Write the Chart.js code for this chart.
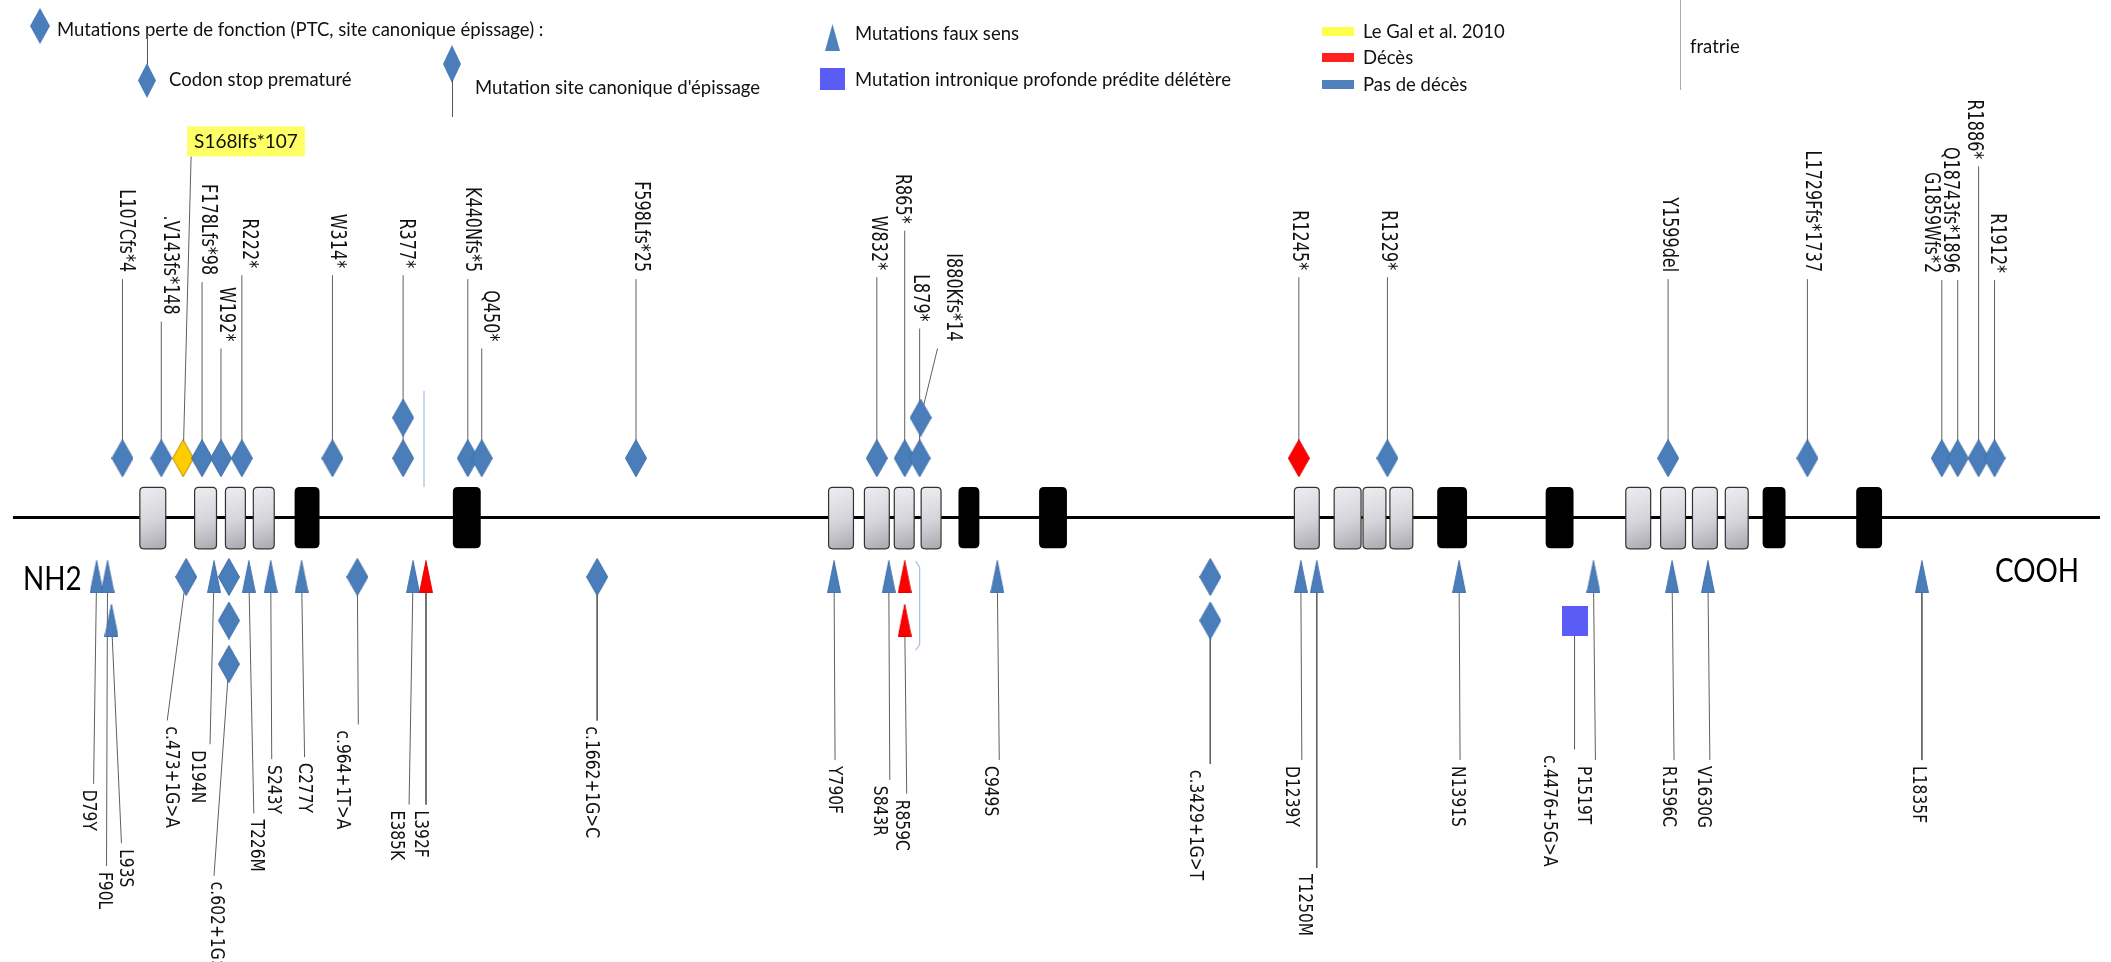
<!DOCTYPE html>
<html lang="fr">
<head>
<meta charset="utf-8">
<title>Mutations – schéma protéique</title>
<script src="https://cdn.jsdelivr.net/npm/chart.js@4.4.1/dist/chart.umd.min.js"></script>
<style>
  html, body { margin: 0; padding: 0; background: #fff; }
  #wrap { position: relative; width: 2111px; height: 962px; overflow: hidden; }
  #chart { position: absolute; left: 0; top: 0; }
  .lg { position: absolute; font-family: Lato, "Open Sans", sans-serif; font-size: 18.5px; color: #111;
        white-space: nowrap; line-height: 1; transform: translateY(-50%); }
  .shape { position: absolute; }
  .dia { clip-path: polygon(50% 0, 100% 50%, 50% 100%, 0 50%); background: #4a7ebb; }
  .tri { clip-path: polygon(50% 0, 100% 100%, 0 100%); background: #4f81bd; }
  .vl { position: absolute; width: 1px; background: #555; }
  .end { position: absolute; font-family: Lato, "Open Sans", sans-serif; font-size: 32px; color: #000;
         line-height: 1; transform-origin: 0 50%; transform: translateY(-50%) scaleX(0.87); }
</style>
</head>
<body>
<div id="wrap">
  <canvas id="chart" width="2111" height="962"></canvas>

  <!-- legend -->
  <div class="shape dia" style="left:30px;top:8px;width:20px;height:36px"></div>
  <div class="lg" style="left:57px;top:29px">Mutations perte de fonction (PTC, site canonique épissage) :</div>
  <div class="vl" style="left:147px;top:33px;height:32px"></div>
  <div class="shape dia" style="left:138px;top:63px;width:18px;height:35px"></div>
  <div class="lg" style="left:169px;top:79px">Codon stop prematuré</div>
  <div class="shape dia" style="left:443px;top:45px;width:18px;height:38px"></div>
  <div class="vl" style="left:452px;top:80px;height:37px"></div>
  <div class="lg" style="left:475px;top:87px">Mutation site canonique d'épissage</div>
  <div class="shape tri" style="left:825px;top:24px;width:15px;height:27px"></div>
  <div class="lg" style="left:855px;top:33px">Mutations faux sens</div>
  <div class="shape" style="left:820px;top:68px;width:25px;height:22px;background:#5b5bf5"></div>
  <div class="lg" style="left:855px;top:79px">Mutation intronique profonde prédite délétère</div>
  <div class="shape" style="left:1322px;top:27px;width:32px;height:9px;background:#ffff4d"></div>
  <div class="lg" style="left:1363px;top:31px">Le Gal et al. 2010</div>
  <div class="shape" style="left:1322px;top:53px;width:32px;height:9px;background:#ff2020"></div>
  <div class="lg" style="left:1363px;top:57px">Décès</div>
  <div class="shape" style="left:1322px;top:80px;width:32px;height:9px;background:#4f81bd"></div>
  <div class="lg" style="left:1363px;top:84px">Pas de décès</div>
  <div class="vl" style="left:1680px;top:0px;height:90px;background:#aaa"></div>
  <div class="lg" style="left:1690px;top:46px">fratrie</div>

  <div class="end" style="left:23px;top:578px">NH2</div>
  <div class="end" style="left:1995px;top:570px">COOH</div>
</div>

<script>
// ---- protein chain (schematic positions along the chain) ----
const chainStart = 8;
const chainEnd = 2105;
const greyDomains = [[135,161],[190,212],[221,241],[249,270],[827,852],[863,888],[893,913],[920,940],
                     [1295,1320],[1335,1362],[1364,1387],[1391,1414],[1628,1653],[1663,1688],[1695,1720],[1728,1751]];
const blackDomains = [[291,316],[450,478],[958,979],[1039,1067],[1439,1469],[1548,1576],[1766,1789],[1860,1886]];

// ---- loss-of-function mutations drawn above the chain ----
const upNames  = ['L107Cfs*4','.V143fs*148','S168lfs*107','F178Lfs*98','W192*','R222*','W314*','R377*',
                  'K440Nfs*5','Q450*','F598Lfs*25','W832*','R865*','L879*','I880Kfs*14','R1245*','R1329*',
                  'Y1599del','L1729Ffs*1737','G1859Wfs*2','Q18743fs*1896','R1886*','R1912*'];
const upPos    = [118,157,179,198,217,238,329,400,465,479,634,876,904,919,920,1300,1389,1671,1811,1946,1962,1983,1999];
const upLevel  = [1,1,1,1,1,1,1,1,1,1,1,1,1,1,2,1,1,1,1,1,1,1,1];
const upCount  = [1,1,1,1,1,1,1,2,1,1,1,1,1,1,1,1,1,1,1,1,1,1,1];
const upStatus = ['alive','alive','legal','alive','alive','alive','alive','alive','alive','alive','alive','alive',
                  'alive','alive','alive','death','alive','alive','alive','alive','alive','alive','alive'];
const upStemX  = [118,157,187,198,217,238,329,400,465,479,634,876,904,919,937,1300,1389,1671,1811,1946,1962,1983,1999];
const upStemY  = [241,198,365,238,171,245,245,245,241,171,241,243,290,191,171,243,243,241,241,240,240,355,240];
const upLabelX = [121,165,187,203,221,245,333,402,469,487,638,877,901,919,952,1300,1389,1671,1815,1935,1954,1978,2001];
const boxedNames = ['S168lfs*107'];

// ---- mutations drawn below the chain ----
const downNames  = ['D79Y','F90L','L93S','c.473+1G>A','D194N','c.602+1G>A','T226M','S243Y','C277Y','c.964+1T>A',
                    'E385K','L392F','c.1662+1G>C','Y790F','S843R','R859C','C949S','c.3429+1G>T','D1239Y','T1250M',
                    'N1391S','c.4476+5G>A','P1519T','R1596C','V1630G','L1835F'];
const downShape  = ['tri','tri','tri','dia','tri','dia','tri','tri','tri','dia','tri','tri','dia','tri','tri','tri',
                    'tri','dia','tri','tri','tri','sq','tri','tri','tri','tri'];
const downPos    = [92,103,107,182,210,225,245,267,298,354,410,423,595,833,888,904,997,1211,1302,1318,1461,1577,1596,1675,1711,1926];
const downLevel  = [1,1,2,1,1,1,1,1,1,1,1,1,1,1,1,1,1,1,1,1,1,2,1,1,1,1];
const downCount  = [1,1,1,1,1,3,1,1,1,1,1,1,1,1,1,2,1,2,1,1,1,1,1,1,1,1];
const downStatus = ['alive','alive','alive','alive','alive','alive','alive','alive','alive','alive','alive','death',
                    'alive','alive','alive','death','alive','alive','alive','alive','alive','alive','alive','alive','alive','alive'];
const downStemX  = [89,102,117,163,206,210,250,268,301,355,406,423,595,834,889,906,999,1211,1303,1318,1462,1577,1598,1677,1713,1926];
const downStemY  = [-269,-352,-329,-205,-229,-362,-299,-244,-242,-209,-290,-290,-205,-245,-265,-279,-245,-249,-245,-354,
                    -245,-234,-245,-245,-245,-245];
const downLabelX = [84,100,121,167,193,212,252,270,301,339,393,417,589,833,878,901,990,1196,1292,1305,1459,1552,1586,1671,1706,1922];

// ---- sibling (fratrie) brackets ----
const fratrieLines = [
  [[421,128],[421,31]],
  [[915,-44],[919,-50],[919,-128],[915,-134]]
];

// ---- styling ----
const statusColor = { alive: '#4a7ebb', death: '#ff0000', legal: '#ffcc00' };
const statusEdge  = { alive: '#3f6fa8', death: '#e00000', legal: '#b08a00' };
const intronicColor = '#5b5bf5';
const labelStretch = 1.3;   // names are drawn with slightly tall glyphs
const upLevelY   = l => 60 + (l - 1) * 41;
const downLevelY = l => -(60 + (l - 1) * 44);

function shapeCanvas(kind, fill, edge) {
  const size = { dia: [22, 38], tri: [14, 33], sq: [26, 30] }[kind];
  const [w, h] = size;
  const c = document.createElement('canvas');
  c.width = w; c.height = h;
  const g = c.getContext('2d');
  g.beginPath();
  if (kind === 'dia') {
    g.moveTo(w / 2, 0.5); g.lineTo(w - 0.5, h / 2); g.lineTo(w / 2, h - 0.5); g.lineTo(0.5, h / 2);
  } else if (kind === 'tri') {
    g.moveTo(w / 2, 0.5); g.lineTo(w - 0.5, h - 0.5); g.lineTo(0.5, h - 0.5);
  } else {
    g.rect(0, 0, w, h);
  }
  g.closePath();
  g.fillStyle = fill;
  g.fill();
  if (edge) { g.strokeStyle = edge; g.lineWidth = 1; g.stroke(); }
  return c;
}
const imgCache = {};
function markerImage(kind, status) {
  const key = kind + status;
  if (!imgCache[key]) {
    imgCache[key] = kind === 'sq'
      ? shapeCanvas('sq', intronicColor, null)
      : shapeCanvas(kind, statusColor[status], statusEdge[status]);
  }
  return imgCache[key];
}

// ---- build point and stem data ----
const markerPoints = [];
const stemPoints = [];
upNames.forEach((n, i) => {
  for (let k = 0; k < upCount[i]; k++) {
    markerPoints.push({ x: upPos[i], y: upLevelY(upLevel[i] + k), img: markerImage('dia', upStatus[i]) });
  }
  stemPoints.push({ x: upPos[i], y: upLevelY(upLevel[i]) }, { x: upStemX[i], y: upStemY[i] }, { x: upStemX[i], y: null });
});
downNames.forEach((n, i) => {
  for (let k = 0; k < downCount[i]; k++) {
    markerPoints.push({ x: downPos[i], y: downLevelY(downLevel[i] + k), img: markerImage(downShape[i], downStatus[i]) });
  }
  stemPoints.push({ x: downPos[i], y: downLevelY(downLevel[i] + downCount[i] - 1) },
                  { x: downStemX[i], y: downStemY[i] }, { x: downStemX[i], y: null });
});
const fratriePoints = [];
fratrieLines.forEach(seg => {
  seg.forEach(([x, y]) => fratriePoints.push({ x, y }));
  fratriePoints.push({ x: seg[seg.length - 1][0], y: null });
});

function roundRectPath(ctx, x, y, w, h, r) {
  ctx.beginPath();
  ctx.moveTo(x + r, y);
  ctx.lineTo(x + w - r, y); ctx.quadraticCurveTo(x + w, y, x + w, y + r);
  ctx.lineTo(x + w, y + h - r); ctx.quadraticCurveTo(x + w, y + h, x + w - r, y + h);
  ctx.lineTo(x + r, y + h); ctx.quadraticCurveTo(x, y + h, x, y + h - r);
  ctx.lineTo(x, y + r); ctx.quadraticCurveTo(x, y, x + r, y);
  ctx.closePath();
}

function drawVertical(ctx, text, px, py, align) {
  ctx.save();
  ctx.translate(px, py);
  ctx.rotate(Math.PI / 2);
  ctx.scale(1, labelStretch);
  ctx.textAlign = align;
  ctx.fillText(text, 0, 0);
  ctx.restore();
}

// Domains are painted right after the backbone so they sit on top of it;
// mutation names are written once every dataset is drawn.
const schematicPlugin = {
  id: 'schematic',
  afterDatasetDraw(chart, args) {
    if (args.index !== 0) return;
    const { ctx, scales: { x, y } } = chart;
    const top = y.getPixelForValue(31), bot = y.getPixelForValue(-31);
    ctx.save();
    greyDomains.forEach(([a, b]) => {
      const x0 = x.getPixelForValue(a), x1 = x.getPixelForValue(b);
      const g = ctx.createLinearGradient(x0, top, x1, bot);
      g.addColorStop(0, '#eeeef2');
      g.addColorStop(0.55, '#d4d4da');
      g.addColorStop(1, '#a9a9b0');
      roundRectPath(ctx, x0 + 0.5, top + 0.5, x1 - x0, bot - top, 4);
      ctx.fillStyle = g; ctx.fill();
      ctx.strokeStyle = '#333'; ctx.lineWidth = 1.2; ctx.stroke();
    });
    blackDomains.forEach(([a, b]) => {
      const x0 = x.getPixelForValue(a), x1 = x.getPixelForValue(b);
      roundRectPath(ctx, x0, top, x1 - x0, bot - top, 5);
      ctx.fillStyle = '#000'; ctx.fill();
    });
    ctx.restore();
  },
  afterDatasetsDraw(chart) {
    const { ctx, scales: { x, y } } = chart;
    ctx.save();
    ctx.fillStyle = '#111';
    ctx.textBaseline = 'middle';
    ctx.font = '16px "DejaVu Sans"';
    upNames.forEach((t, i) => {
      const px = x.getPixelForValue(upLabelX[i]);
      const py = y.getPixelForValue(upStemY[i]);
      if (boxedNames.includes(t)) {
        ctx.save();
        ctx.font = '19px Lato';
        const w = ctx.measureText(t).width + 14;
        ctx.fillStyle = '#ffff66';
        ctx.fillRect(px - 4, py - 30, w, 30);
        ctx.fillStyle = '#111';
        ctx.textAlign = 'left';
        ctx.fillText(t, px + 3, py - 15);
        ctx.restore();
        return;
      }
      drawVertical(ctx, t, px, py - 7, 'right');
    });
    ctx.font = '15.5px "DejaVu Sans"';
    downNames.forEach((t, i) => {
      drawVertical(ctx, t, x.getPixelForValue(downLabelX[i]), y.getPixelForValue(downStemY[i]) + 6, 'left');
    });
    ctx.restore();
  }
};

new Chart(document.getElementById('chart'), {
  type: 'scatter',
  data: {
    datasets: [
      { type: 'line', label: 'chaîne', data: [{ x: chainStart, y: 0 }, { x: chainEnd, y: 0 }],
        borderColor: '#000', borderWidth: 3, pointRadius: 0, order: 4 },
      { type: 'line', label: 'tiges', data: stemPoints, borderColor: '#606060', borderWidth: 1,
        pointRadius: 0, spanGaps: false, order: 3 },
      { type: 'line', label: 'fratrie', data: fratriePoints, borderColor: '#a9bddf', borderWidth: 1.2,
        pointRadius: 0, spanGaps: false, order: 2 },
      { type: 'scatter', label: 'mutations', data: markerPoints, pointRadius: 4,
        pointStyle: ctx => ctx.raw ? ctx.raw.img : 'circle', order: 1 }
    ]
  },
  options: {
    responsive: false,
    devicePixelRatio: 1,
    animation: false,
    events: [],
    layout: { padding: 0 },
    plugins: { legend: { display: false }, tooltip: { enabled: false } },
    scales: {
      x: { type: 'linear', min: 0, max: 2111, display: false },
      y: { type: 'linear', min: -444, max: 518, display: false }
    }
  },
  plugins: [schematicPlugin]
});
</script>
</body>
</html>
